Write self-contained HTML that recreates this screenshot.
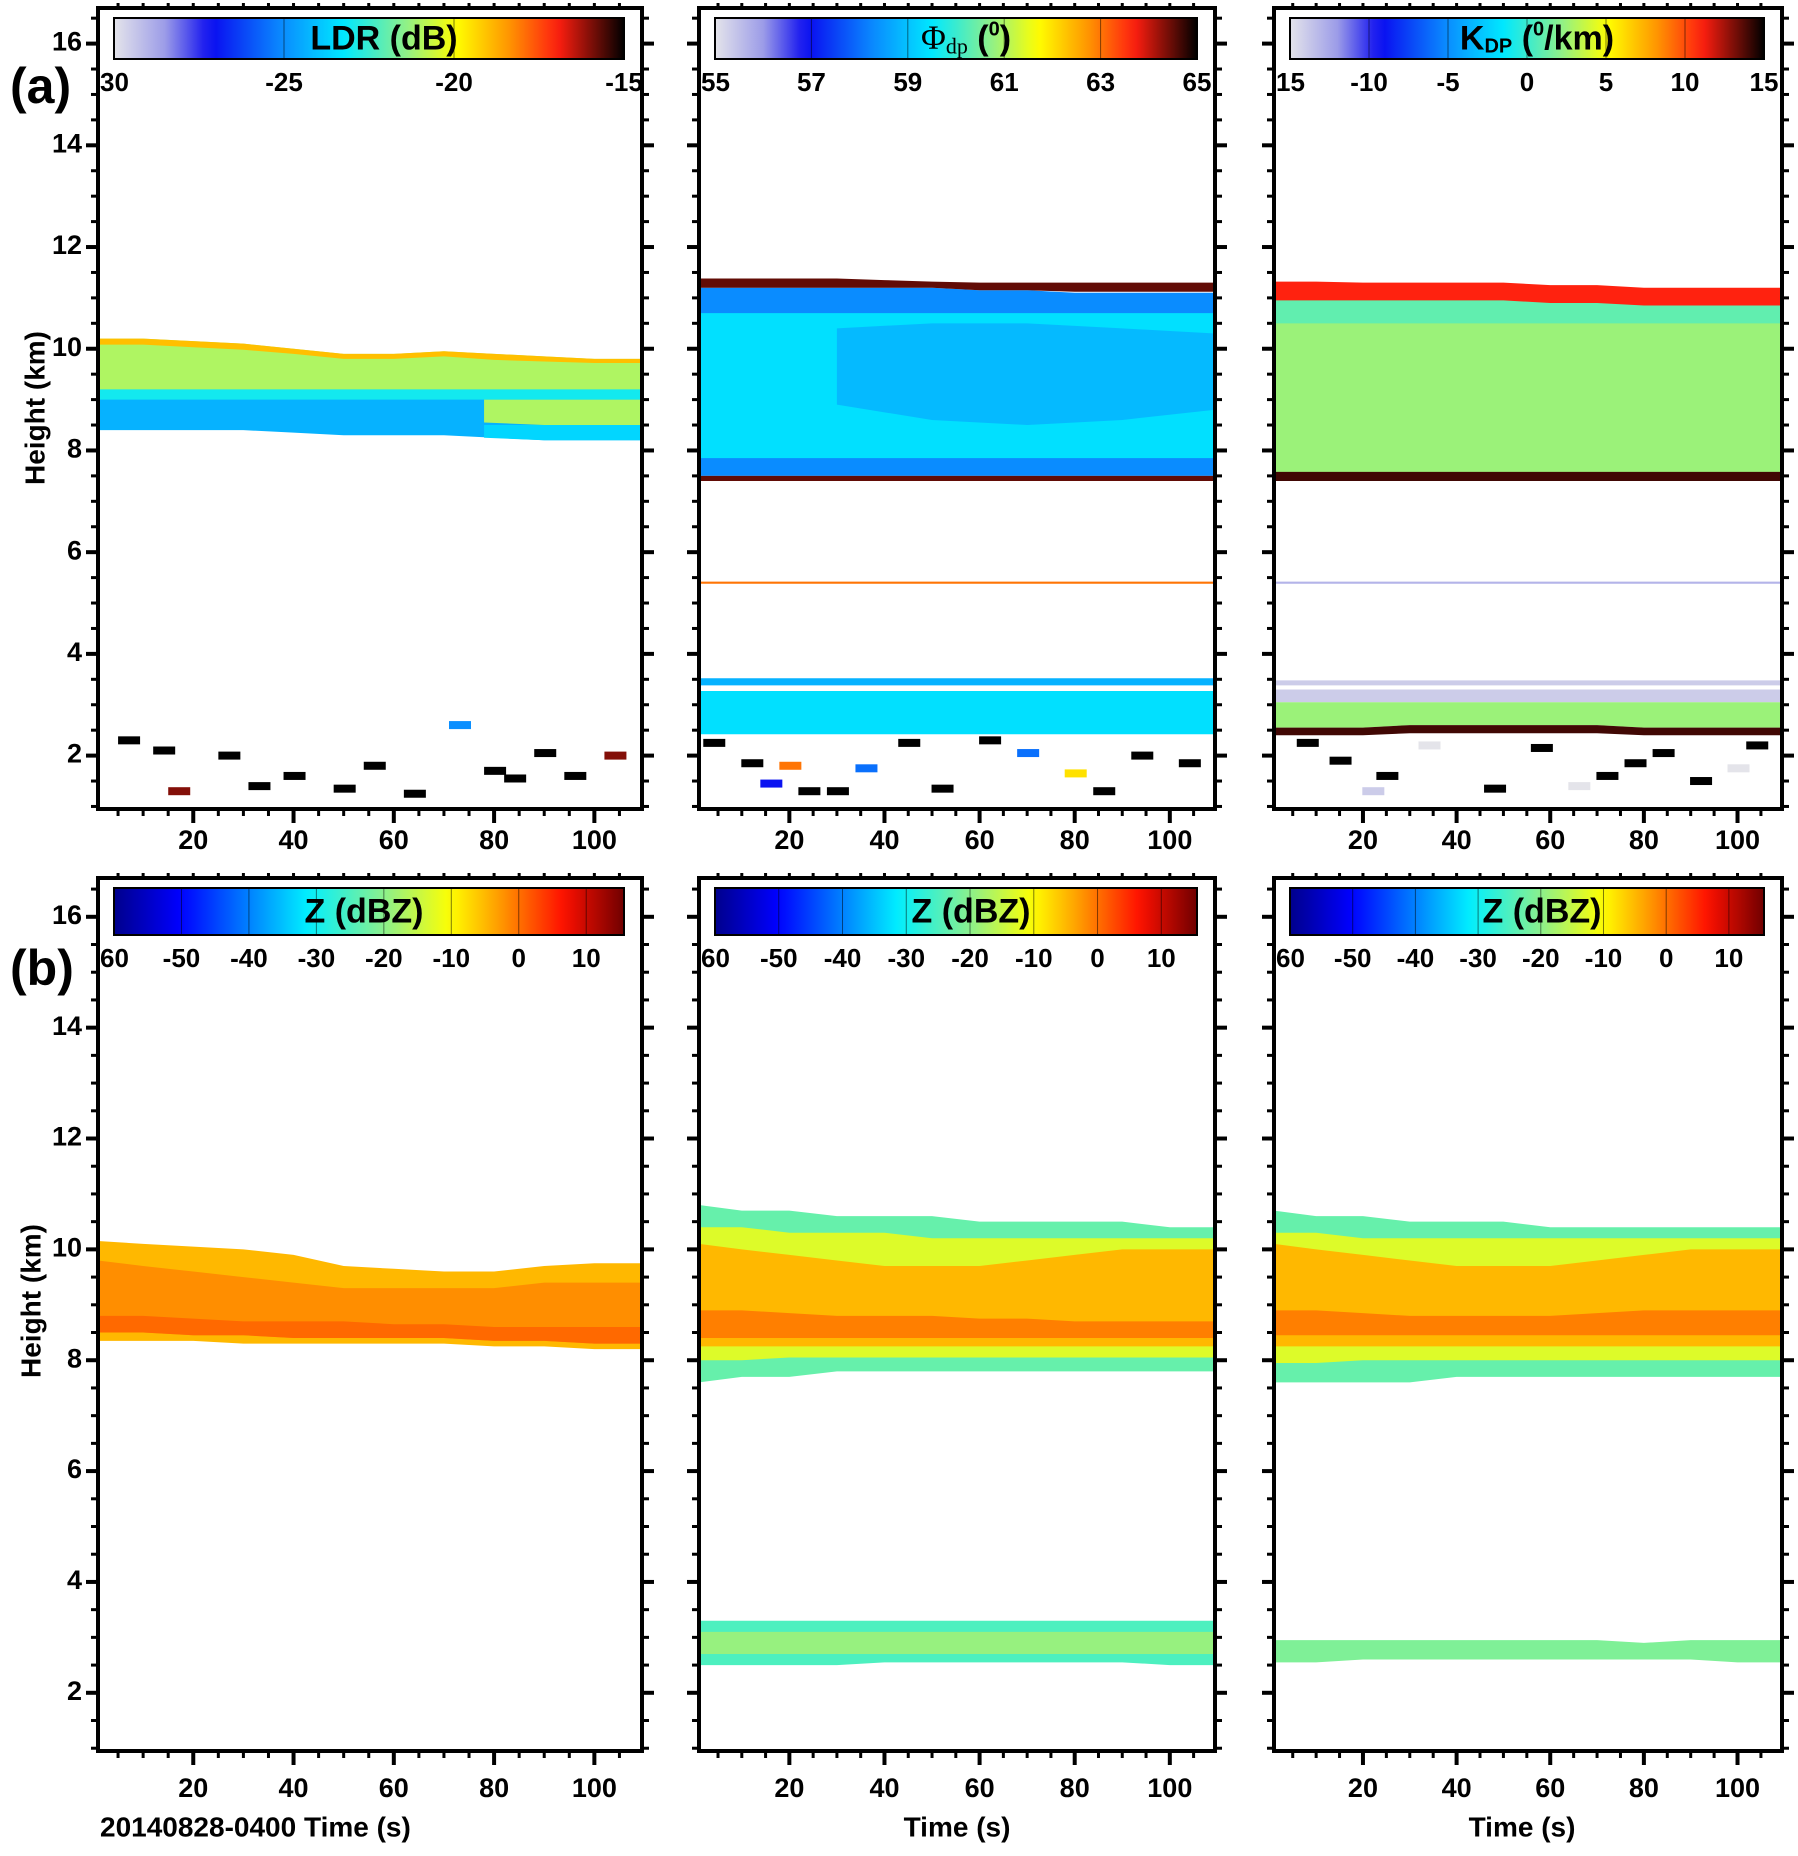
<!DOCTYPE html>
<html><head><meta charset="utf-8">
<style>
html,body{margin:0;padding:0;background:#fff;}
svg{display:block;}
text{font-family:"Liberation Sans Narrow","Liberation Sans",sans-serif;font-weight:bold;fill:#000;}
</style></head>
<body>
<svg id="fig" width="1798" height="1856" viewBox="0 0 1798 1856" xmlns="http://www.w3.org/2000/svg"></svg>
<script>
// ---------- data ----------
const xTicks = [20,40,60,80,100];
const yTicks = [2,4,6,8,10,12,14,16];
const xRange = [1,109.5];
const yRange = [0.95,16.7];
const T = [1,10,20,30,40,50,60,70,80,90,100,109.5];
const TR = [78,90,100,109.5];

const ldrTicks = [-30,-25,-20,-15];
const phiTicks = [55,57,59,61,63,65];
const kdpTicks = [-15,-10,-5,0,5,10,15];
const zTicks = [-60,-50,-40,-30,-20,-10,0,10];

const ldrLayers = [
 {v:-21, t:T, top:[10.2,10.2,10.15,10.1,10.0,9.9,9.9,9.95,9.9,9.85,9.8,9.8], bot:[9.1,9.1,9.1,9.1,9.1,9.1,9.1,9.1,9.1,9.1,9.1,9.1]},
 {v:-19, t:T, top:[10.2,10.2,10.15,10.1,10.0,9.9,9.9,9.95,9.9,9.85,9.8,9.8], bot:[10.08,10.08,10.03,9.98,9.9,9.8,9.8,9.85,9.78,9.75,9.72,9.72]},
 {v:-23, t:T, top:[9.2,9.2,9.2,9.2,9.2,9.2,9.2,9.2,9.2,9.2,9.2,9.2], bot:[8.9,8.9,8.9,8.9,8.9,8.9,8.9,8.9,8.9,8.9,8.9,8.9]},
 {v:-24.3, t:T, top:[9.0,9.0,9.0,9.0,9.0,9.0,9.0,9.0,9.0,9.0,9.0,9.0], bot:[8.4,8.4,8.4,8.4,8.35,8.3,8.3,8.3,8.25,8.2,8.2,8.2]},
 {v:-21, t:TR, top:[9.0,9.0,9.0,9.0], bot:[8.55,8.5,8.5,8.5]},
 {v:-23.6, t:TR, top:[8.5,8.5,8.5,8.5], bot:[8.25,8.2,8.2,8.2]}
];
const phiLayers = [
 {v:59.4, t:T, top:[11.0,11.0,11.0,11.0,11.0,11.0,11.0,11.0,11.0,11.0,11.0,11.0], bot:[7.6,7.6,7.6,7.6,7.6,7.6,7.6,7.6,7.6,7.6,7.6,7.6]},
 {v:58.9, t:[30,50,70,90,109.5], top:[10.4,10.5,10.5,10.4,10.3], bot:[8.9,8.6,8.5,8.6,8.8]},
 {v:58.3, t:T, top:[11.2,11.2,11.2,11.2,11.2,11.2,11.15,11.15,11.1,11.1,11.1,11.1], bot:[10.7,10.7,10.7,10.7,10.7,10.7,10.7,10.7,10.7,10.7,10.7,10.7]},
 {v:64.5, t:T, top:[11.38,11.38,11.38,11.38,11.35,11.32,11.3,11.3,11.3,11.3,11.3,11.3], bot:[11.2,11.2,11.2,11.2,11.2,11.2,11.15,11.15,11.12,11.12,11.12,11.12]},
 {v:58.3, t:T, top:[7.85,7.85,7.85,7.85,7.85,7.85,7.85,7.85,7.85,7.85,7.85,7.85], bot:[7.5,7.5,7.5,7.5,7.5,7.5,7.5,7.5,7.5,7.5,7.5,7.5]},
 {v:64.5, t:T, top:[7.5,7.5,7.5,7.5,7.5,7.5,7.5,7.5,7.5,7.5,7.5,7.5], bot:[7.4,7.4,7.4,7.4,7.4,7.4,7.4,7.4,7.4,7.4,7.4,7.4]},
 {v:63, t:T, top:[5.42,5.42,5.42,5.42,5.42,5.42,5.42,5.42,5.42,5.42,5.42,5.42], bot:[5.38,5.38,5.38,5.38,5.38,5.38,5.38,5.38,5.38,5.38,5.38,5.38]},
 {v:59.4, t:T, top:[3.27,3.27,3.27,3.27,3.27,3.27,3.27,3.27,3.27,3.27,3.27,3.27], bot:[2.42,2.42,2.42,2.42,2.42,2.42,2.42,2.42,2.42,2.42,2.42,2.42]},
 {v:58.8, t:T, top:[3.52,3.52,3.52,3.52,3.52,3.52,3.52,3.52,3.52,3.52,3.52,3.52], bot:[3.38,3.38,3.38,3.38,3.38,3.38,3.38,3.38,3.38,3.38,3.38,3.38]}
];
const kdpLayers = [
 {v:2.5, t:T, top:[10.6,10.6,10.6,10.6,10.6,10.6,10.6,10.6,10.6,10.6,10.6,10.6], bot:[7.5,7.5,7.5,7.5,7.5,7.5,7.5,7.5,7.5,7.5,7.5,7.5]},
 {v:1, t:T, top:[11.0,11.0,11.0,11.0,11.0,11.0,11.0,11.0,11.0,11.0,11.0,11.0], bot:[10.5,10.5,10.5,10.5,10.5,10.5,10.5,10.5,10.5,10.5,10.5,10.5]},
 {v:11, t:T, top:[11.32,11.32,11.3,11.3,11.3,11.3,11.25,11.25,11.2,11.2,11.2,11.2], bot:[10.95,10.95,10.95,10.95,10.95,10.95,10.9,10.9,10.85,10.85,10.85,10.85]},
 {v:14, t:T, top:[7.58,7.58,7.58,7.58,7.58,7.58,7.58,7.58,7.58,7.58,7.58,7.58], bot:[7.4,7.4,7.4,7.4,7.4,7.4,7.4,7.4,7.4,7.4,7.4,7.4]},
 {v:-13, t:T, top:[5.42,5.42,5.42,5.42,5.42,5.42,5.42,5.42,5.42,5.42,5.42,5.42], bot:[5.38,5.38,5.38,5.38,5.38,5.38,5.38,5.38,5.38,5.38,5.38,5.38]},
 {v:-14, t:T, top:[3.48,3.48,3.48,3.48,3.48,3.48,3.48,3.48,3.48,3.48,3.48,3.48], bot:[3.38,3.38,3.38,3.38,3.38,3.38,3.38,3.38,3.38,3.38,3.38,3.38]},
 {v:-14, t:T, top:[3.3,3.3,3.3,3.3,3.3,3.3,3.3,3.3,3.3,3.3,3.3,3.3], bot:[3.05,3.05,3.05,3.05,3.05,3.05,3.05,3.05,3.05,3.05,3.05,3.05]},
 {v:2.5, t:T, top:[3.05,3.05,3.05,3.05,3.05,3.05,3.05,3.05,3.05,3.05,3.05,3.05], bot:[2.55,2.55,2.55,2.6,2.6,2.6,2.6,2.6,2.55,2.55,2.55,2.55]},
 {v:14, t:T, top:[2.55,2.55,2.55,2.6,2.6,2.6,2.6,2.6,2.55,2.55,2.55,2.55], bot:[2.4,2.4,2.4,2.44,2.44,2.44,2.44,2.44,2.4,2.4,2.4,2.4]}
];
const z1Layers = [
 {v:-5, t:T, top:[10.15,10.1,10.05,10.0,9.9,9.7,9.65,9.6,9.6,9.7,9.75,9.75], bot:[8.35,8.35,8.35,8.3,8.3,8.3,8.3,8.3,8.25,8.25,8.2,8.2]},
 {v:-2, t:T, top:[9.8,9.7,9.6,9.5,9.4,9.3,9.3,9.3,9.3,9.4,9.4,9.4], bot:[8.5,8.5,8.45,8.45,8.4,8.4,8.4,8.4,8.35,8.35,8.3,8.3]},
 {v:0.5, t:T, top:[8.8,8.8,8.75,8.7,8.7,8.7,8.65,8.65,8.6,8.6,8.6,8.6], bot:[8.5,8.5,8.45,8.45,8.4,8.4,8.4,8.4,8.35,8.35,8.3,8.3]}
];
const z2Layers = [
 {v:-23, t:T, top:[10.8,10.7,10.7,10.6,10.6,10.6,10.5,10.5,10.5,10.5,10.4,10.4], bot:[7.6,7.7,7.7,7.8,7.8,7.8,7.8,7.8,7.8,7.8,7.8,7.8]},
 {v:-13, t:T, top:[10.4,10.4,10.3,10.3,10.3,10.2,10.2,10.2,10.2,10.2,10.2,10.2], bot:[8.0,8.0,8.05,8.05,8.05,8.05,8.05,8.05,8.05,8.05,8.05,8.05]},
 {v:-5, t:T, top:[10.1,10.0,9.9,9.8,9.7,9.7,9.7,9.8,9.9,10.0,10.0,10.0], bot:[8.25,8.25,8.25,8.25,8.25,8.25,8.25,8.25,8.25,8.25,8.25,8.25]},
 {v:-1, t:T, top:[8.9,8.9,8.85,8.8,8.8,8.8,8.75,8.75,8.7,8.7,8.7,8.7], bot:[8.4,8.4,8.4,8.4,8.4,8.4,8.4,8.4,8.4,8.4,8.4,8.4]},
 {v:-25, t:T, top:[3.3,3.3,3.3,3.3,3.3,3.3,3.3,3.3,3.3,3.3,3.3,3.3], bot:[2.5,2.5,2.5,2.5,2.55,2.55,2.55,2.55,2.55,2.55,2.5,2.5]},
 {v:-19, t:T, top:[3.1,3.1,3.1,3.1,3.1,3.1,3.1,3.1,3.1,3.1,3.1,3.1], bot:[2.7,2.7,2.7,2.7,2.7,2.7,2.7,2.7,2.7,2.7,2.7,2.7]}
];
const z3Layers = [
 {v:-23, t:T, top:[10.7,10.6,10.6,10.5,10.5,10.5,10.4,10.4,10.4,10.4,10.4,10.4], bot:[7.6,7.6,7.6,7.6,7.7,7.7,7.7,7.7,7.7,7.7,7.7,7.7]},
 {v:-13, t:T, top:[10.3,10.3,10.2,10.2,10.2,10.2,10.2,10.2,10.2,10.2,10.2,10.2], bot:[7.95,7.95,8.0,8.0,8.0,8.0,8.0,8.0,8.0,8.0,8.0,8.0]},
 {v:-5, t:T, top:[10.1,10.0,9.9,9.8,9.7,9.7,9.7,9.8,9.9,10.0,10.0,10.0], bot:[8.25,8.25,8.25,8.25,8.25,8.25,8.25,8.25,8.25,8.25,8.25,8.25]},
 {v:-1, t:T, top:[8.9,8.9,8.85,8.8,8.8,8.8,8.8,8.85,8.9,8.9,8.9,8.9], bot:[8.45,8.45,8.45,8.45,8.45,8.45,8.45,8.45,8.45,8.45,8.45,8.45]},
 {v:-21, t:T, top:[2.95,2.95,2.95,2.95,2.95,2.95,2.95,2.95,2.9,2.95,2.95,2.95], bot:[2.55,2.55,2.6,2.6,2.6,2.6,2.6,2.6,2.6,2.6,2.55,2.55]}
];
const ldrSpotT = [7,14,17,27,33,40,50,56,64,73,80,84,90,96,104];
const ldrSpotH = [2.3,2.1,1.3,2.0,1.4,1.6,1.35,1.8,1.25,2.6,1.7,1.55,2.05,1.6,2.0];
const ldrSpotV = [-15,-15,-16,-15,-15,-15,-15,-15,-15,-25,-15,-15,-15,-15,-16];
const phiSpotT = [4,12,20,24,30,45,52,62,70,80,86,94,104,16,36];
const phiSpotH = [2.25,1.85,1.8,1.3,1.3,2.25,1.35,2.3,2.05,1.65,1.3,2.0,1.85,1.45,1.75];
const phiSpotV = [65,65,63,65,65,65,65,65,58,62,65,65,65,57,58];
const kdpSpotT = [8,15,25,34,48,58,66,78,84,92,100,104,22,72];
const kdpSpotH = [2.25,1.9,1.6,2.2,1.35,2.15,1.4,1.85,2.05,1.5,1.75,2.2,1.3,1.6];
const kdpSpotV = [15,15,15,-15,15,15,-15,15,15,15,-15,15,-14,15];

// ---------- colormaps ----------
const jetStops = [[0,'#e4e4ea'],[0.1,'#9c9ce8'],[0.19,'#0a0af0'],[0.33,'#0a8cff'],[0.45,'#00e8ff'],[0.57,'#8cf08c'],[0.67,'#ffff00'],[0.77,'#ff9a00'],[0.87,'#ff1e10'],[1,'#000000']];
const zStops = [[0,'#00008c'],[0.13,'#0000ff'],[0.38,'#00f0ff'],[0.53,'#8cf08c'],[0.66,'#ffff00'],[0.76,'#ff9600'],[0.88,'#ff1000'],[1,'#700000']];
function hex(c){return [parseInt(c.slice(1,3),16),parseInt(c.slice(3,5),16),parseInt(c.slice(5,7),16)];}
function cmap(stops,t){
  t=Math.max(0,Math.min(1,t));
  for(let i=1;i<stops.length;i++){
    if(t<=stops[i][0]){const a=stops[i-1],b=stops[i];const f=(t-a[0])/(b[0]-a[0]);
      const ca=hex(a[1]),cb=hex(b[1]);return 'rgb('+ca.map((v,k)=>Math.round(v+(cb[k]-v)*f)).join(',')+')';}
  }
  return stops[stops.length-1][1];
}

// ---------- layout ----------
const NS='http://www.w3.org/2000/svg';
const svg=document.getElementById('fig');
function el(tag,attrs,parent){const e=document.createElementNS(NS,tag);for(const k in attrs)e.setAttribute(k,attrs[k]);(parent||svg).appendChild(e);return e;}
const cols=[{x0:98,x1:642},{x0:699,x1:1215},{x0:1274,x1:1782}];
const rows=[{y0:8,y1:809,lab:842},{y0:878,y1:1751,lab:1790}];

const panels=[
 {r:0,c:0,layers:ldrLayers,stops:jetStops,vmin:-30,vmax:-15,ticks:ldrTicks,title:'LDR  (dB)',spots:[ldrSpotT,ldrSpotH,ldrSpotV],name:'ldr'},
 {r:0,c:1,layers:phiLayers,stops:jetStops,vmin:55,vmax:65,ticks:phiTicks,title:'phi',spots:[phiSpotT,phiSpotH,phiSpotV],name:'phidp'},
 {r:0,c:2,layers:kdpLayers,stops:jetStops,vmin:-15,vmax:15,ticks:kdpTicks,title:'kdp',spots:[kdpSpotT,kdpSpotH,kdpSpotV],name:'kdp'},
 {r:1,c:0,layers:z1Layers,stops:zStops,vmin:-60,vmax:15.6,ticks:zTicks,title:'Z (dBZ)',name:'z-1'},
 {r:1,c:1,layers:z2Layers,stops:zStops,vmin:-60,vmax:15.6,ticks:zTicks,title:'Z (dBZ)',name:'z-2'},
 {r:1,c:2,layers:z3Layers,stops:zStops,vmin:-60,vmax:15.6,ticks:zTicks,title:'Z (dBZ)',name:'z-3'}
];

panels.forEach((p,pi)=>{
  const C=cols[p.c],R=rows[p.r];
  const sx=v=>C.x0+(v-xRange[0])/(xRange[1]-xRange[0])*(C.x1-C.x0);
  const sy=v=>R.y1-(v-yRange[0])/(yRange[1]-yRange[0])*(R.y1-R.y0);
  const col=v=>cmap(p.stops,(v-p.vmin)/(p.vmax-p.vmin));
  const g=el('g',{});
  
  
  const cid='clip'+pi;
  const cp=el('clipPath',{id:cid},g);el('rect',{x:C.x0,y:R.y0,width:C.x1-C.x0,height:R.y1-R.y0},cp);
  const dg=el('g',{'clip-path':'url(#'+cid+')'},g);
  p.layers.forEach((L,li)=>{
    let pts=[];
    L.t.forEach((t,i)=>pts.push(sx(t)+','+sy(L.top[i])));
    for(let i=L.t.length-1;i>=0;i--)pts.push(sx(L.t[i])+','+sy(L.bot[i]));
    const poly=el('polygon',{points:pts.join(' '),fill:col(L.v)},dg);
    
    
  });
  if(p.spots){
    const [st,sh,sv]=p.spots;
    st.forEach((t,i)=>{
      const r=el('rect',{x:sx(t)-10,y:sy(sh[i])-4,width:22,height:8,fill:col(sv[i])},dg);
      
      
    });
  }
  const fr=el('rect',{x:C.x0,y:R.y0,width:C.x1-C.x0,height:R.y1-R.y0,fill:'none',stroke:'#000','stroke-width':4},g);
  
  
  for(let h=1;h<=16.5;h+=0.5){
    const y=sy(h);const maj=(h%2===0);const len=maj?12:7;
    el('line',{x1:C.x0-len,x2:C.x0,y1:y,y2:y,stroke:'#000','stroke-width':maj?4:3},g);
    el('line',{x1:C.x1,x2:C.x1+len,y1:y,y2:y,stroke:'#000','stroke-width':maj?4:3},g);
  }
  for(let t=5;t<=105;t+=5){
    const x=sx(t);const maj=(t%20===0);const len=maj?14:7;
    el('line',{x1:x,x2:x,y1:R.y1,y2:R.y1+len,stroke:'#000','stroke-width':maj?4:3},g);
    el('line',{x1:x,x2:x,y1:R.y0,y2:R.y0-5,stroke:'#000','stroke-width':3},g);
  }
  xTicks.forEach(t=>{
    const tx=el('text',{x:sx(t),y:R.lab,'text-anchor':'middle','font-size':27,'dominant-baseline':'middle'},g);
    tx.textContent=t;
    
    
  });
  if(p.c===0){
    yTicks.forEach(h=>{
      const ty=el('text',{x:C.x0-16,y:sy(h),'text-anchor':'end','font-size':27,'dominant-baseline':'middle'},g);
      ty.textContent=h;
      
      
    });
  }
  const bx0=C.x0+16,bx1=C.x1-18,by0=R.y0+10,by1=R.y0+(p.r===0?51:57);
  const gid='grad'+pi;
  const lg=el('linearGradient',{id:gid,x1:0,x2:1,y1:0,y2:0},g);
  for(let i=0;i<=40;i++){el('stop',{offset:i/40,'stop-color':cmap(p.stops,i/40)},lg);}
  const cb=el('rect',{x:bx0,y:by0,width:bx1-bx0,height:by1-by0,fill:'url(#'+gid+')',stroke:'#000','stroke-width':2},g);
  
  
  const cx=v=>bx0+(v-p.vmin)/(p.vmax-p.vmin)*(bx1-bx0);
  p.ticks.forEach((v,i)=>{
    const x=cx(v);
    el('line',{x1:x,x2:x,y1:by0,y2:by1,stroke:'#000','stroke-width':1,'stroke-opacity':0.5},g);
    let s=String(v);let anchor='middle';let xx=x;
    if(i===0){s=String(Math.abs(v));anchor='start';xx=C.x0+2;}
    const tl=el('text',{x:xx,y:by1+25,'text-anchor':anchor,'font-size':26,'dominant-baseline':'middle'},g);
    tl.textContent=s;
    
    
  });
  const tcx=(bx0+bx1)/2+ (p.c===0&&p.r===0?15:(p.r===1&&p.c===0?-5:(p.r===1?15:10)));
  const tt=el('text',{x:tcx,y:(by0+by1)/2+2,'text-anchor':'middle','font-size':34,'dominant-baseline':'middle',style:'font-family:"Liberation Sans",sans-serif'},g);
  
  
  if(p.title==='phi'){
    tt.innerHTML='<tspan style="font-family:Liberation Serif,serif;font-weight:normal">Φ</tspan><tspan font-size="22" dy="8" style="font-family:Liberation Serif,serif;font-weight:normal">dp</tspan><tspan dy="-8"> (</tspan><tspan font-size="20" dy="-10">0</tspan><tspan dy="10">)</tspan>';
  } else if(p.title==='kdp'){
    tt.innerHTML='K<tspan font-size="20" dy="7">DP</tspan><tspan dy="-7"> (</tspan><tspan font-size="20" dy="-10">0</tspan><tspan dy="10">/km)</tspan>';
  } else tt.textContent=p.title;
});

function txt(s,attrs,name){const t=el('text',attrs);t.textContent=s;return t;}
txt('(a)',{x:10,y:90,'font-size':50,'dominant-baseline':'middle',style:'font-family:"Liberation Sans",sans-serif'},'panel-label-a');
txt('(b)',{x:10,y:972,'font-size':50,'dominant-baseline':'middle',style:'font-family:"Liberation Sans",sans-serif'},'panel-label-b');
txt('Height (km)',{x:0,y:0,'font-size':28,'text-anchor':'middle',transform:'translate(37,408) rotate(-90)','dominant-baseline':'middle'},'y-axis-title-a');
txt('Height (km)',{x:0,y:0,'font-size':28,'text-anchor':'middle',transform:'translate(33,1301) rotate(-90)','dominant-baseline':'middle'},'y-axis-title-b');
txt('20140828-0400  Time (s)',{x:100,y:1829,'font-size':28,'dominant-baseline':'middle'},'x-axis-title-1');
txt('Time (s)',{x:957,y:1829,'font-size':28,'text-anchor':'middle','dominant-baseline':'middle'},'x-axis-title-2');
txt('Time (s)',{x:1522,y:1829,'font-size':28,'text-anchor':'middle','dominant-baseline':'middle'},'x-axis-title-3');
</script>
</body></html>
